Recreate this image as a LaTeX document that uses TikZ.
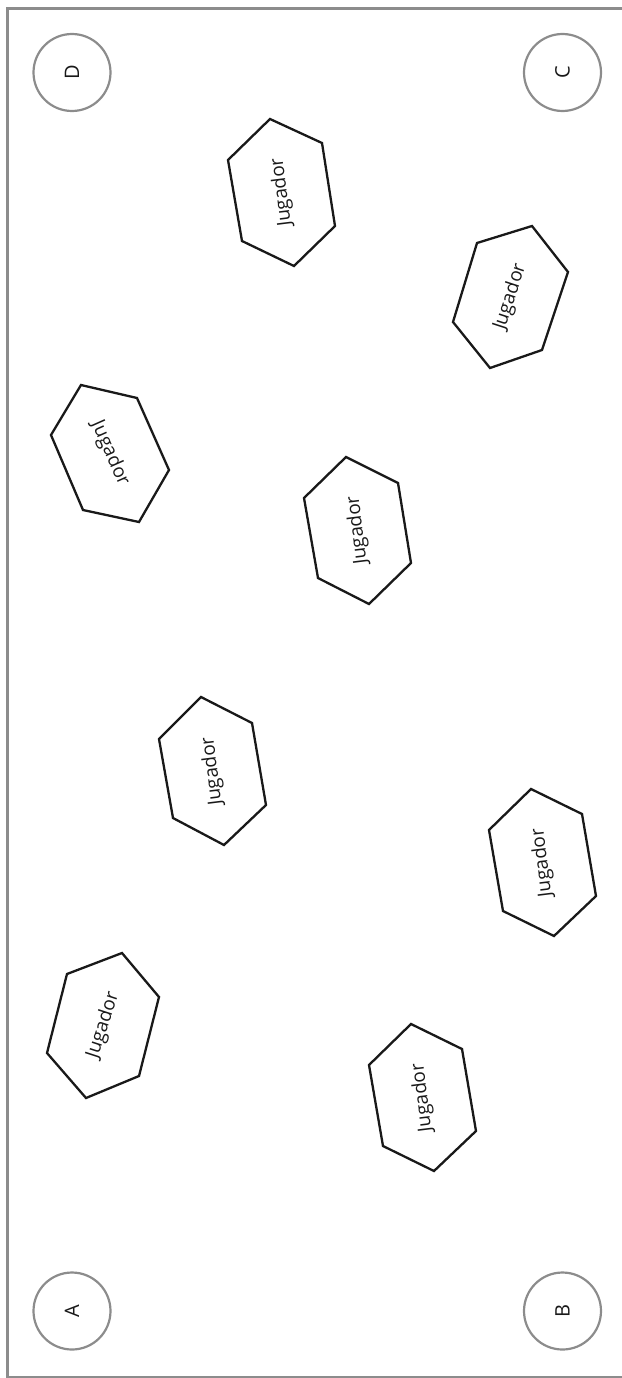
\documentclass[tikz,border=0pt]{standalone}
\usepackage{fontspec}
\setmainfont{Open Sans}
\begin{document}
\begin{tikzpicture}[x=1pt,y=-1pt,
  frame/.style={draw=black!45,line width=2.2pt},
  corner/.style={circle,draw=black!45,line width=2.2pt,minimum size=77pt,inner sep=0pt,font=\fontsize{20}{20}\selectfont,text=black!90},
  hexa/.style={draw=black!90,line width=2.3pt,line join=miter},
  lbl/.style={font=\fontsize{19}{19}\selectfont,text=black!90,inner sep=0pt}]
\useasboundingbox (0,0) rectangle (621,1378);
% frame
\coordinate (f1) at (630,8.5);
\coordinate (f2) at (7.5,8.5);
\coordinate (f3) at (7.5,1377);
\coordinate (f4) at (630,1377);
\draw[frame] (f1) -- (f2) -- (f3) -- (f4);
% corner circles
\node[corner] (D) at (72,72.5) {\rotatebox{90}{D}};
\node[corner] (C) at (562.5,72.5) {\rotatebox{90}{C}};
\node[corner] (A) at (72,1311) {\rotatebox{90}{A}};
\node[corner] (B) at (562.5,1311) {\rotatebox{90}{B}};
% hexagons
\draw[hexa] (270,119) -- (322,143) -- (335,226) -- (294,266) -- (242,241) -- (228,160) -- cycle;
\node[lbl,rotate=97] (j1) at (281.8,192.5) {Jugador};
\draw[hexa] (532,226) -- (568,272) -- (542,350) -- (490,368) -- (453,322) -- (477,243) -- cycle;
\node[lbl,rotate=72] (j2) at (510.3,296.8) {Jugador};
\draw[hexa] (81,385) -- (137,398) -- (169,470) -- (139,522) -- (83,510) -- (51,435) -- cycle;
\node[lbl,rotate=-66] (j3) at (110,453.3) {Jugador};
\draw[hexa] (346,457) -- (398,483) -- (411,563) -- (369,604) -- (318,578) -- (304,498) -- cycle;
\node[lbl,rotate=97] (j4) at (357.7,530.5) {Jugador};
\draw[hexa] (201,697) -- (252,723) -- (266,805) -- (224,845) -- (173,818) -- (159,739) -- cycle;
\node[lbl,rotate=97] (j5) at (212.5,771.2) {Jugador};
\draw[hexa] (531,789) -- (582,814) -- (596,896) -- (554,936) -- (503,911) -- (489,830) -- cycle;
\node[lbl,rotate=97] (j6) at (542.5,862.7) {Jugador};
\draw[hexa] (122,953) -- (159,997) -- (139,1076) -- (86,1098) -- (47,1053) -- (67,974) -- cycle;
\node[lbl,rotate=72] (j7) at (103.3,1025.2) {Jugador};
\draw[hexa] (411,1024) -- (462,1049) -- (476,1131) -- (434,1171) -- (383,1146) -- (369,1065) -- cycle;
\node[lbl,rotate=97] (j8) at (422.5,1097.7) {Jugador};
\end{tikzpicture}
\end{document}
